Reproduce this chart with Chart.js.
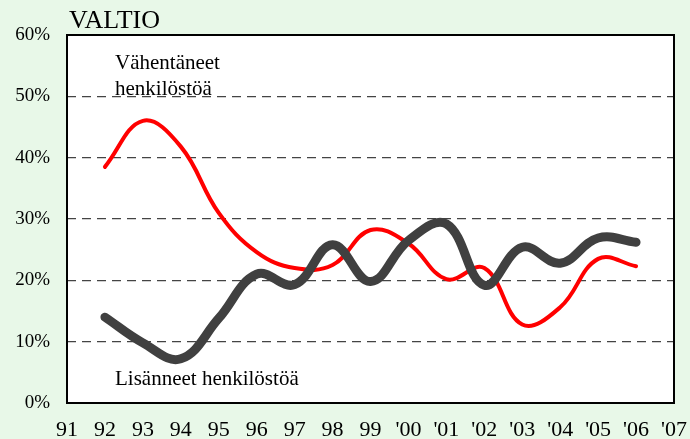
<!DOCTYPE html>
<html>
<head>
<meta charset="utf-8">
<script src="https://cdn.jsdelivr.net/npm/chart.js@4"></script>
<style>
  html, body { margin: 0; padding: 0; background: #e8f8e8; }
  #wrap { width: 690px; height: 439px; }
</style>
</head>
<body>
<div id="wrap"><canvas id="chart" width="690" height="439"></canvas></div>
<script>
// --- data ---
const years = [1992, 1993, 1994, 1995, 1996, 1997, 1998, 1999, 2000, 2001, 2002, 2003, 2004, 2005, 2006];
const lisanneet = [14.0, 9.8, 7.2, 13.8, 21.0, 19.3, 25.8, 19.8, 26.5, 29.2, 19.2, 25.4, 22.8, 26.9, 26.2];
const vahentaneet = [38.5, 46.0, 41.8, 31.0, 24.6, 22.0, 22.5, 28.2, 26.0, 20.2, 22.0, 12.8, 15.6, 23.5, 22.3];
const xTickLabels = ['91', '92', '93', '94', '95', '96', '97', '98', '99', "'00", "'01", "'02", "'03", "'04", "'05", "'06", "'07"];
const yTicks = [0, 10, 20, 30, 40, 50, 60];

const serif = '"Liberation Serif", "Times New Roman", serif';

// plot area white + black frame + text labels
const decor = {
  id: 'decor',
  beforeDraw(chart) {
    const { ctx, chartArea: a } = chart;
    ctx.save();
    ctx.fillStyle = '#ffffff';
    ctx.fillRect(a.left, a.top, a.right - a.left, a.bottom - a.top);
    ctx.restore();
  },
  afterDatasetsDraw(chart) {
    const { ctx, chartArea: a } = chart;
    ctx.save();
    ctx.strokeStyle = '#000000';
    ctx.lineWidth = 2;
    ctx.strokeRect(a.left, a.top, a.right - a.left, a.bottom - a.top);
    ctx.fillStyle = '#000000';
    ctx.textBaseline = 'middle';
    ctx.font = '26px ' + serif;
    ctx.fillText('VALTIO', 69, 21);
    ctx.font = '21px ' + serif;
    ctx.fillText('Vähentäneet', 115, 63);
    ctx.fillText('henkilöstöä', 115, 89);
    ctx.fillText('Lisänneet henkilöstöä', 115, 379);
    ctx.restore();
  }
};

new Chart(document.getElementById('chart'), {
  type: 'line',
  data: {
    datasets: [
      {
        label: 'Lisänneet henkilöstöä',
        data: years.map((y, i) => ({ x: y, y: lisanneet[i] })),
        borderColor: '#404040',
        borderWidth: 9,
        tension: 0.4,
        pointRadius: 0,
        borderCapStyle: 'round',
        borderJoinStyle: 'round'
      },
      {
        label: 'Vähentäneet henkilöstöä',
        data: years.map((y, i) => ({ x: y, y: vahentaneet[i] })),
        borderColor: '#ff0000',
        borderWidth: 4,
        tension: 0.4,
        pointRadius: 0,
        borderCapStyle: 'round',
        borderJoinStyle: 'round'
      }
    ]
  },
  options: {
    responsive: false,
    animation: false,
    layout: { padding: { top: 35, right: 16, left: 0, bottom: 0 } },
    plugins: { legend: { display: false }, tooltip: { enabled: false } },
    scales: {
      x: {
        type: 'linear',
        min: 1991,
        max: 2007,
        afterFit(s) { s.height = 36; s.paddingLeft = 0; s.paddingRight = 0; },
        afterBuildTicks(s) { s.ticks = xTickLabels.map((_, i) => ({ value: 1991 + i })); },
        grid: { display: false, drawTicks: false },
        border: { display: false },
        ticks: {
          autoSkip: false,
          maxRotation: 0,
          padding: 14,
          color: '#000000',
          font: { family: serif, size: 22 },
          callback: (v) => xTickLabels[v - 1991]
        }
      },
      y: {
        min: 0,
        max: 60,
        afterFit(s) { s.width = 67; s.paddingTop = 0; s.paddingBottom = 0; },
        afterBuildTicks(s) { s.ticks = yTicks.map(v => ({ value: v })); },
        grid: {
          color: (c) => (c.tick.value === 0 || c.tick.value === 60) ? 'rgba(0,0,0,0)' : '#444444',
          lineWidth: 1.2,
          drawTicks: false
        },
        border: { display: false, dash: [9, 6] },
        ticks: {
          padding: 17,
          color: '#000000',
          font: { family: serif, size: 19 },
          callback: (v) => v + '%'
        }
      }
    }
  },
  plugins: [decor]
});
</script>
</body>
</html>
